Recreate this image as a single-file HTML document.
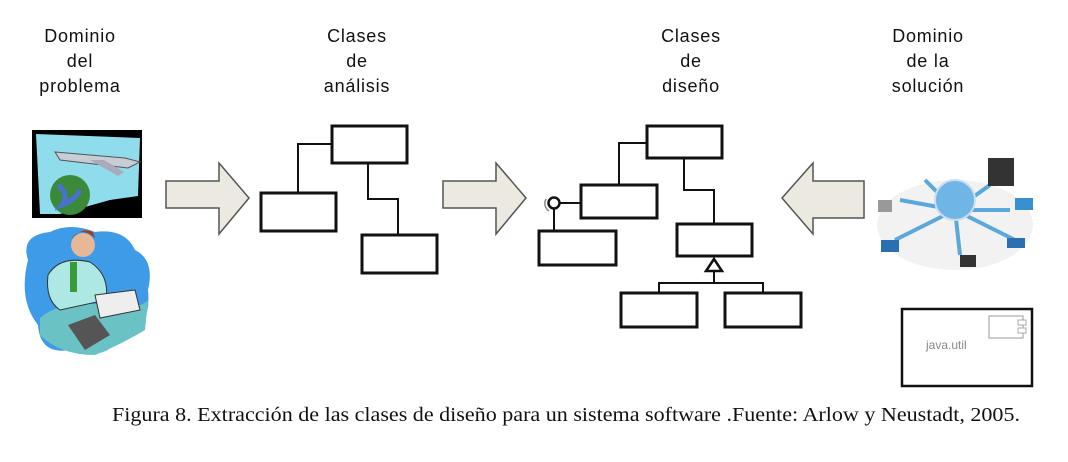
<!DOCTYPE html>
<html><head><meta charset="utf-8"><style>
html,body{margin:0;padding:0;background:#fff;}
svg{display:block}
.t{font-family:"Liberation Sans",sans-serif;font-size:18px;fill:#111;text-anchor:middle;letter-spacing:0.8px}
.b{fill:#fff;stroke:#111;stroke-width:3}
.l{stroke:#111;stroke-width:2;fill:none}
.ar{fill:#eceae0;stroke:#555;stroke-width:1.5}
</style></head><body>
<svg width="1068" height="462" viewBox="0 0 1068 462">
<text class="t" x="80" y="42">Dominio</text>
<text class="t" x="80" y="67">del</text>
<text class="t" x="80" y="92">problema</text>
<text class="t" x="357" y="42">Clases</text>
<text class="t" x="357" y="67">de</text>
<text class="t" x="357" y="92">análisis</text>
<text class="t" x="691" y="42">Clases</text>
<text class="t" x="691" y="67">de</text>
<text class="t" x="691" y="92">diseño</text>
<text class="t" x="928" y="42">Dominio</text>
<text class="t" x="928" y="67">de la</text>
<text class="t" x="928" y="92">solución</text>

<!-- plane clipart -->
<rect x="32" y="130" width="110" height="88" fill="#000"/>
<polygon points="36,134 140,138 138,196 110,200 60,214 40,214" fill="#8fdcec"/>
<path d="M55,152 L125,158 L140,162 L128,168 L60,160 Z" fill="#c8ccd4" stroke="#555"/>
<path d="M90,160 L118,176 L124,172 L104,160 Z" fill="#aab"/>
<circle cx="70" cy="195" r="20" fill="#3a8a3a"/>
<path d="M58,185 Q70,195 62,205 Q75,200 80,190" stroke="#4a70d0" stroke-width="5" fill="none"/>

<!-- man clipart -->
<path d="M28,260 Q20,235 50,232 Q70,222 95,232 Q125,228 135,250 Q155,260 148,290 Q152,330 120,340 Q100,362 70,350 Q40,355 38,325 Q18,300 28,260 Z" fill="#3d9be8"/>
<path d="M40,318 Q60,300 110,305 Q140,310 148,300 L145,330 Q120,345 95,355 Q60,355 40,335 Z" fill="#6bc2c4"/>
<path d="M48,275 Q60,255 90,262 Q110,275 106,300 L60,310 Q45,300 48,275 Z" fill="#aee8e4" stroke="#333"/>
<circle cx="83" cy="245" r="12" fill="#e6b898"/>
<path d="M71,240 Q80,225 95,238 L93,232 Q82,226 71,240" fill="#a04020"/>
<rect x="70" y="262" width="7" height="30" fill="#3a9a3a"/>
<path d="M95,295 L135,290 L140,310 L100,318 Z" fill="#eee" stroke="#333"/>
<path d="M68,325 L95,315 L110,335 L85,350 Z" fill="#555"/>

<!-- arrows -->
<polygon class="ar" points="166,181 219,181 219,163 249,198 219,234 219,208 166,208"/>
<polygon class="ar" points="443,181 496,181 496,163 526,198 496,234 496,208 443,208"/>
<polygon class="ar" points="864,181 813,181 813,163 782,198 813,234 813,218 864,218"/>

<!-- analysis classes -->
<polyline class="l" points="332,144 298,144 298,193"/>
<polyline class="l" points="368,163 368,199 398,199 398,235"/>
<rect class="b" x="332" y="126" width="75" height="37"/>
<rect class="b" x="261" y="193" width="75" height="38"/>
<rect class="b" x="362" y="235" width="75" height="38"/>

<!-- design classes -->
<polyline class="l" points="647,143 619,143 619,185"/>
<polyline class="l" points="684,158 684,190 714,190 714,224"/>
<line class="l" x1="560" y1="203" x2="581" y2="203"/>
<line class="l" x1="554" y1="209" x2="554" y2="231"/>
<circle cx="554" cy="203" r="5.5" fill="#fff" stroke="#111" stroke-width="2.5"/>
<path d="M546,199 A9,9 0 0 0 549,211" fill="none" stroke="#888" stroke-width="1.5"/>
<rect class="b" x="647" y="126" width="75" height="32"/>
<rect class="b" x="581" y="185" width="76" height="33"/>
<rect class="b" x="539" y="231" width="77" height="34"/>
<rect class="b" x="677" y="224" width="75" height="32"/>
<polygon points="714,259 706,271 722,271" fill="#fff" stroke="#111" stroke-width="2.5"/>
<polyline class="l" points="714,271 714,283"/>
<polyline class="l" points="659,293 659,283 763,283 763,293"/>
<rect class="b" x="621" y="293" width="76" height="34"/>
<rect class="b" x="725" y="293" width="76" height="34"/>

<!-- network clipart -->
<ellipse cx="955" cy="225" rx="78" ry="45" fill="#f2f2f2"/>
<g stroke="#5ba8dc" stroke-width="4">
<line x1="955" y1="210" x2="895" y2="240"/><line x1="955" y1="210" x2="1015" y2="240"/>
<line x1="955" y1="210" x2="960" y2="255"/><line x1="955" y1="210" x2="1010" y2="210"/>
<line x1="955" y1="210" x2="900" y2="200"/><line x1="955" y1="210" x2="925" y2="180"/>
<line x1="955" y1="210" x2="990" y2="185"/>
</g>
<circle cx="955" cy="200" r="20" fill="#6fb6e6" stroke="#cde" stroke-width="2"/>
<rect x="988" y="158" width="26" height="28" fill="#333"/>
<rect x="878" y="200" width="14" height="12" fill="#999"/>
<rect x="1015" y="198" width="18" height="12" fill="#3a8fd0"/>
<rect x="881" y="240" width="18" height="12" fill="#2a6fb0"/>
<rect x="960" y="255" width="16" height="12" fill="#333"/>
<rect x="1007" y="238" width="18" height="10" fill="#2a6fb0"/>

<!-- java.util -->
<rect x="902" y="309" width="130" height="77" fill="#fff" stroke="#111" stroke-width="2.5"/>
<rect x="989" y="316" width="34" height="22" fill="#fff" stroke="#aaa" stroke-width="1.2"/>
<rect x="1018" y="320" width="8" height="5" fill="#fff" stroke="#aaa"/>
<rect x="1018" y="328" width="8" height="5" fill="#fff" stroke="#aaa"/>
<text x="926" y="349" font-family="Liberation Sans,sans-serif" font-size="12" fill="#888">java.util</text>

<text x="112" y="421" font-family="Liberation Serif,serif" font-size="20" fill="#111" textLength="908" lengthAdjust="spacingAndGlyphs">Figura 8. Extracción de las clases de diseño para un sistema software .Fuente: Arlow y Neustadt, 2005.</text>
</svg>
</body></html>
